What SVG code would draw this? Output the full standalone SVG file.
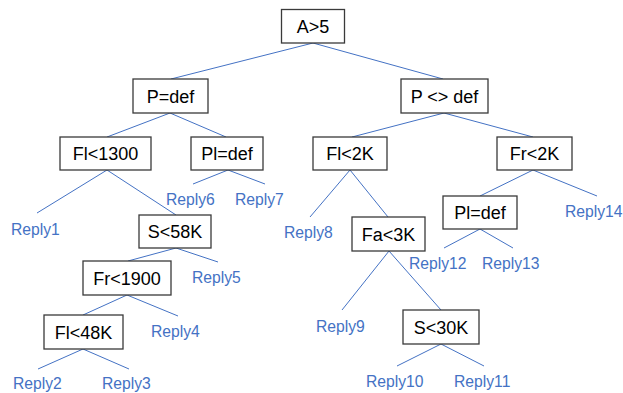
<svg xmlns="http://www.w3.org/2000/svg" width="623" height="393" viewBox="0 0 623 393">
<style>
.box{fill:#fff;stroke:#3a3a3a;stroke-width:1.3}
.nt{font-family:"Liberation Sans",Arial,sans-serif;font-size:18px;fill:#000;text-anchor:middle}
.rt{font-family:"Liberation Sans",Arial,sans-serif;font-size:15.7px;fill:#4472C4}
#edges line{stroke:#4472C4;stroke-width:1}
</style>
<rect width="623" height="393" fill="#fff"/>
<g id="edges">
<line x1="313" y1="43" x2="171" y2="79"/>
<line x1="313" y1="43" x2="443" y2="79"/>
<line x1="170" y1="113" x2="107" y2="137"/>
<line x1="170" y1="113" x2="226" y2="137"/>
<line x1="107" y1="170" x2="37" y2="213"/>
<line x1="107" y1="170" x2="176" y2="215"/>
<line x1="228" y1="170" x2="193" y2="184"/>
<line x1="228" y1="170" x2="265" y2="184"/>
<line x1="444" y1="113" x2="352" y2="137"/>
<line x1="444" y1="113" x2="533" y2="137"/>
<line x1="350" y1="170" x2="310" y2="217"/>
<line x1="350" y1="170" x2="388" y2="217"/>
<line x1="533" y1="170" x2="480" y2="196"/>
<line x1="533" y1="170" x2="597" y2="196"/>
<line x1="176" y1="248" x2="128" y2="261"/>
<line x1="176" y1="248" x2="218" y2="262"/>
<line x1="127" y1="295" x2="83" y2="315"/>
<line x1="127" y1="295" x2="178" y2="316"/>
<line x1="83" y1="349" x2="38" y2="369"/>
<line x1="83" y1="349" x2="129" y2="369"/>
<line x1="389" y1="251" x2="342" y2="310"/>
<line x1="389" y1="251" x2="441" y2="310"/>
<line x1="441" y1="344" x2="397" y2="366"/>
<line x1="441" y1="344" x2="484" y2="366"/>
<line x1="480" y1="229" x2="444" y2="248"/>
<line x1="480" y1="229" x2="513" y2="248"/>
</g>
<g id="n-a5"><rect class="box" x="281.5" y="9.5" width="63" height="33.5"/><text class="nt" x="313" y="32.8">A&gt;5</text></g>
<g id="n-pdef"><rect class="box" x="133" y="79" width="75" height="34"/><text class="nt" x="170.5" y="102.5">P=def</text></g>
<g id="n-pndef"><rect class="box" x="401" y="79" width="87" height="34"/><text class="nt" x="444.5" y="102.5">P &lt;&gt; def</text></g>
<g id="n-fl1300"><rect class="box" x="60" y="137" width="91" height="33"/><text class="nt" x="105.5" y="160">Fl&lt;1300</text></g>
<g id="n-pldef1"><rect class="box" x="191" y="137" width="72" height="33"/><text class="nt" x="227" y="160">Pl=def</text></g>
<g id="n-fl2k"><rect class="box" x="313" y="137" width="74" height="33"/><text class="nt" x="350" y="160">Fl&lt;2K</text></g>
<g id="n-fr2k"><rect class="box" x="497" y="137" width="75" height="33"/><text class="nt" x="534.5" y="160">Fr&lt;2K</text></g>
<g id="n-s58k"><rect class="box" x="139" y="215" width="72" height="33"/><text class="nt" x="175" y="238">S&lt;58K</text></g>
<g id="n-fr1900"><rect class="box" x="83" y="261" width="88" height="34"/><text class="nt" x="127" y="284.5">Fr&lt;1900</text></g>
<g id="n-fl48k"><rect class="box" x="44" y="315" width="79" height="34"/><text class="nt" x="83.5" y="338.5">Fl&lt;48K</text></g>
<g id="n-fa3k"><rect class="box" x="352" y="217" width="73" height="34"/><text class="nt" x="388.5" y="240.5">Fa&lt;3K</text></g>
<g id="n-s30k"><rect class="box" x="403" y="310" width="76" height="34"/><text class="nt" x="441" y="333.5">S&lt;30K</text></g>
<g id="n-pldef2"><rect class="box" x="443" y="196" width="74" height="33"/><text class="nt" x="480" y="219">Pl=def</text></g>
<g id="replies">
<text class="rt" x="11" y="235">Reply1</text>
<text class="rt" x="13" y="389">Reply2</text>
<text class="rt" x="102" y="389">Reply3</text>
<text class="rt" x="151" y="337">Reply4</text>
<text class="rt" x="192" y="283">Reply5</text>
<text class="rt" x="166" y="205">Reply6</text>
<text class="rt" x="235" y="205">Reply7</text>
<text class="rt" x="284" y="238">Reply8</text>
<text class="rt" x="316" y="332">Reply9</text>
<text class="rt" x="366" y="387">Reply10</text>
<text class="rt" x="454" y="387">Reply11</text>
<text class="rt" x="409" y="269">Reply12</text>
<text class="rt" x="482" y="269">Reply13</text>
<text class="rt" x="565" y="217">Reply14</text>
</g>
</svg>
